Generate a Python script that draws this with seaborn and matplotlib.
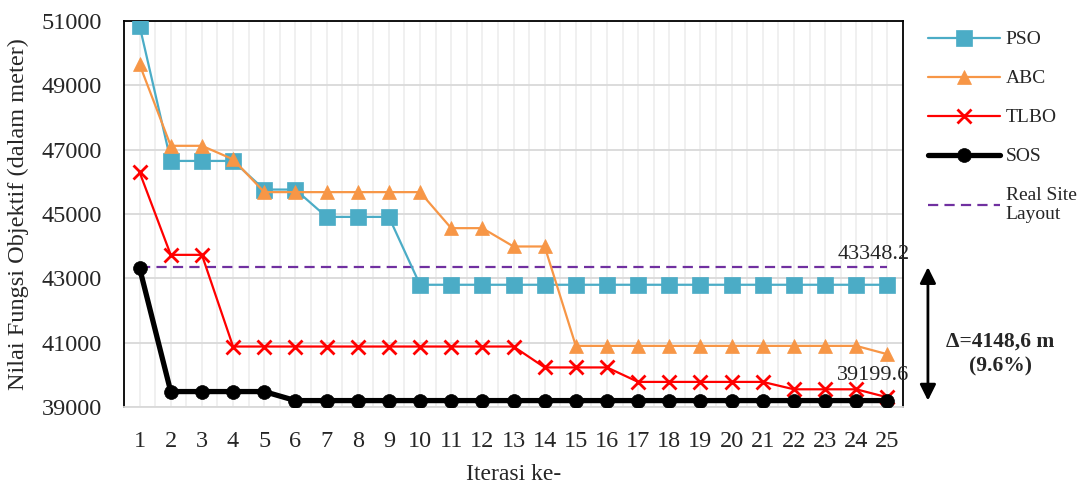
import matplotlib
matplotlib.use("Agg")
import matplotlib.pyplot as plt
import matplotlib.transforms as mtransforms
from matplotlib.ticker import MultipleLocator
import numpy as np
import pandas as pd
import seaborn as sns

# Convergence of each algorithm over 25 iterations (objective value in metres)
iterations = list(range(1, 26))
pso = [50850, 46650, 46650, 46650, 45760, 45760, 44910, 44910, 44910,
       42800, 42800, 42800, 42800, 42800, 42800, 42800, 42800, 42800,
       42800, 42800, 42800, 42800, 42800, 42800, 42800]
abc = [49650, 47120, 47120, 46700, 45680, 45680, 45680, 45680, 45680,
       45680, 44560, 44560, 43990, 43990, 40900, 40900, 40900, 40900,
       40900, 40900, 40900, 40900, 40900, 40900, 40640]
tlbo = [46300, 43730, 43730, 40880, 40880, 40880, 40880, 40880, 40880,
        40880, 40880, 40880, 40880, 40230, 40230, 40230, 39780, 39780,
        39780, 39780, 39780, 39550, 39550, 39550, 39300]
sos = [43320, 39480, 39480, 39480, 39480, 39199.6, 39199.6, 39199.6,
       39199.6, 39199.6, 39199.6, 39199.6, 39199.6, 39199.6, 39199.6,
       39199.6, 39199.6, 39199.6, 39199.6, 39199.6, 39199.6, 39199.6,
       39199.6, 39199.6, 39199.6]
real_site = 43348.2
delta_text = "Δ=4148,6 m\n(9.6%)"

df = pd.DataFrame({"iter": iterations, "PSO": pso, "ABC": abc,
                   "TLBO": tlbo, "SOS": sos,
                   "Real Site\nLayout": [real_site] * len(iterations)})

sns.set_theme(style="white")
plt.rcParams["font.family"] = ["Liberation Serif", "DejaVu Serif"]

fig = plt.figure(figsize=(10.82, 4.87), dpi=100)
ax = fig.add_axes([124 / 1082, 80 / 487, 779 / 1082, 386 / 487])

styles = {
    "PSO": dict(color="#4BACC6", marker="s", markersize=11.5, linewidth=1.6),
    "ABC": dict(color="#F79646", marker="^", markersize=10, linewidth=1.6),
    "TLBO": dict(color="#FF0000", marker="x", markersize=10, linewidth=1.6,
                 markeredgewidth=2),
    "SOS": dict(color="#000000", marker="o", markersize=10, linewidth=3.8),
}
for name, st in styles.items():
    kw = dict(st)
    kw.setdefault("markeredgewidth", 0.5)
    sns.lineplot(data=df, x="iter", y=name, ax=ax, label=name,
                 markeredgecolor=st["color"], zorder=3 if name != "SOS" else 4,
                 **kw)

sns.lineplot(data=df, x="iter", y="Real Site\nLayout", ax=ax,
             label="Real Site\nLayout", color="#7030A0", linewidth=1.6,
             linestyle=(0, (4.6, 2.8)), zorder=2)

ax.set_xlim(0.5, 25.5)
ax.set_ylim(39000, 51000)
ax.set_yticks(np.arange(39000, 51001, 2000))
ax.set_xticks(iterations)
ax.xaxis.set_minor_locator(MultipleLocator(0.5))
ax.grid(axis="y", which="major", color="#D9D9D9", linewidth=1.3, zorder=0)
ax.grid(axis="x", which="both", color="#EFEFEF", linewidth=1.3, zorder=0)
ax.set_axisbelow(True)

ax.tick_params(axis="both", which="both", length=0)
ax.tick_params(axis="x", labelsize=17.5, pad=17)
ax.tick_params(axis="y", labelsize=17.5, pad=16)
ax.set_xlabel("Iterasi ke-", fontsize=17, labelpad=9)
ax.set_ylabel("Nilai Fungsi Objektif (dalam meter)", fontsize=17.5,
              labelpad=9)

for side in ("left", "top", "right"):
    ax.spines[side].set_color("black")
    ax.spines[side].set_linewidth(1.3)
ax.spines["bottom"].set_color("#D9D9D9")
ax.spines["bottom"].set_linewidth(1.3)

# value labels at the last iteration
ax.annotate(f"{real_site:.1f}", xy=(iterations[-1], real_site),
            xytext=(-10, 9), textcoords="offset points",
            ha="center", va="center", fontsize=16, clip_on=False)
ax.annotate(f"{sos[-1]:.1f}", xy=(iterations[-1], sos[-1]),
            xytext=(-10, 18), textcoords="offset points",
            ha="center", va="center", fontsize=16, clip_on=False)

# gap between the real layout and the best result
trans = mtransforms.blended_transform_factory(ax.transAxes, ax.transData)
ax.annotate("", xy=(1.032, sos[-1]), xytext=(1.032, real_site),
            xycoords=trans, textcoords=trans,
            arrowprops=dict(arrowstyle="<|-|>", color="black", lw=2,
                            mutation_scale=24, shrinkA=0, shrinkB=0))
ax.text(1.125, (real_site + sos[-1]) / 2 - 620, delta_text, transform=trans,
        ha="center", va="center", fontsize=15.5, fontweight="bold",
        linespacing=1.3)

handles, labels = ax.get_legend_handles_labels()
ax.get_legend().remove()
fig.legend(handles, labels, loc="upper left",
           bbox_to_anchor=(920 / 1082, 1 - 23 / 487), frameon=False,
           fontsize=14, handlelength=3.7, handletextpad=0.3,
           labelspacing=1.1, numpoints=1, borderaxespad=0)

fig.savefig("out.png", dpi=100)
